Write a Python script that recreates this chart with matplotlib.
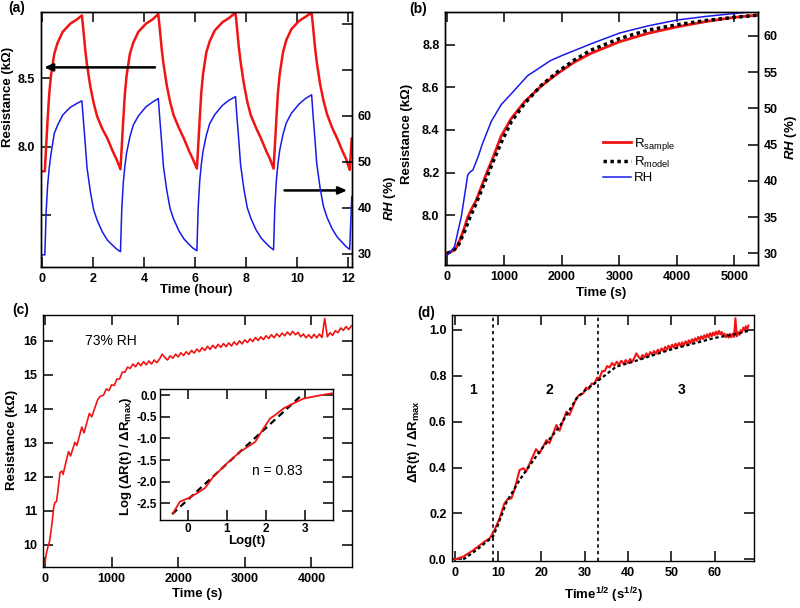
import numpy as np
import matplotlib.pyplot as plt

plt.rcParams['font.family'] = ['Liberation Sans', 'DejaVu Sans']
plt.rcParams['font.weight'] = 'bold'
plt.rcParams['axes.labelweight'] = 'bold'
plt.rcParams['axes.unicode_minus'] = False
plt.rcParams['mathtext.fontset'] = 'custom'
plt.rcParams['mathtext.rm'] = 'Liberation Sans'
plt.rcParams['mathtext.it'] = 'Liberation Sans:italic:bold'
plt.rcParams['mathtext.bf'] = 'Liberation Sans:bold'
plt.rcParams['mathtext.default'] = 'regular'
plt.rcParams['axes.linewidth'] = 1.0

RED = '#f01414'
BLUE = '#1a1ae6'

## (a) humidity cycling
a_time = [0.03, 0.12, 0.17, 0.23, 0.29, 0.36, 0.49, 0.62, 0.82, 1.12, 1.37, 1.57, 1.63, 1.70, 1.77, 1.90, 2.03, 2.17, 2.37, 2.57, 2.77, 2.92, 3.08,
          3.13, 3.19, 3.25, 3.32, 3.45, 3.58, 3.78, 4.08, 4.33, 4.56, 4.62, 4.69, 4.76, 4.89, 5.02, 5.16, 5.36, 5.56, 5.76, 5.91, 6.07,
          6.12, 6.18, 6.24, 6.31, 6.44, 6.57, 6.77, 7.07, 7.32, 7.58, 7.64, 7.71, 7.78, 7.91, 8.04, 8.18, 8.38, 8.58, 8.78, 8.93, 9.07,
          9.12, 9.18, 9.24, 9.31, 9.44, 9.57, 9.77, 10.07, 10.32, 10.56, 10.62, 10.69, 10.76, 10.89, 11.02, 11.16, 11.36, 11.56, 11.76, 11.91, 12.05, 12.13]
a_res = [7.82, 7.82, 8.0, 8.2, 8.38, 8.52, 8.68, 8.76, 8.84, 8.90, 8.93, 8.96, 8.85, 8.71, 8.60, 8.44, 8.32, 8.22, 8.13, 8.06, 7.97, 7.91, 7.835,
         8.0, 8.2, 8.38, 8.52, 8.68, 8.76, 8.84, 8.90, 8.93, 8.97, 8.86, 8.72, 8.61, 8.45, 8.33, 8.23, 8.14, 8.06, 7.97, 7.91, 7.84,
         8.0, 8.2, 8.39, 8.53, 8.69, 8.77, 8.85, 8.91, 8.94, 8.98, 8.87, 8.73, 8.62, 8.46, 8.33, 8.23, 8.14, 8.06, 7.97, 7.91, 7.84,
         8.0, 8.2, 8.39, 8.53, 8.69, 8.78, 8.86, 8.92, 8.95, 8.98, 8.87, 8.73, 8.62, 8.46, 8.34, 8.24, 8.14, 8.06, 7.97, 7.91, 7.83, 8.06]
a_rh = [29.8, 29.8, 39.0, 45.0, 48.6, 51.7, 56.2, 58.0, 60.2, 61.9, 62.7, 63.3, 59.0, 54.1, 48.8, 43.6, 39.6, 37.3, 34.8, 33.0, 31.9, 31.1, 30.5,
        39.6, 45.5, 49.0, 52.0, 55.5, 58.0, 60.0, 62.0, 63.0, 63.8, 59.3, 54.4, 49.1, 43.9, 39.9, 37.6, 35.1, 33.3, 32.1, 31.3, 30.7,
        39.9, 45.8, 49.3, 52.3, 55.8, 58.3, 60.3, 62.3, 63.4, 64.2, 59.6, 54.7, 49.4, 44.1, 40.1, 37.8, 35.3, 33.5, 32.3, 31.5, 30.9,
        40.1, 46.0, 49.5, 52.5, 56.0, 58.5, 60.6, 62.6, 63.8, 64.6, 59.9, 55.0, 49.7, 44.4, 40.4, 38.0, 35.5, 33.7, 32.5, 31.6, 31.0, 42.5]

## (b) single step, sample vs model vs RH
b_time = [0, 70, 150, 220, 290, 360, 430, 510, 650, 800, 940, 1120, 1350, 1640, 1930, 2220, 2500, 3000, 3500, 4000, 4500, 5000, 5400]
b_res = [7.82, 7.827, 7.84, 7.88, 7.93, 7.99, 8.03, 8.07, 8.17, 8.27, 8.37, 8.455, 8.533, 8.607, 8.667, 8.72, 8.76, 8.815, 8.855, 8.885, 8.91, 8.93, 8.94]
b_model_time = [0, 100, 200, 300, 400, 500, 650, 800, 950, 1120, 1350, 1640, 1930, 2220, 2500, 3000, 3500, 4000, 4500, 5000, 5400]
b_model = [7.82, 7.83, 7.86, 7.92, 7.99, 8.05, 8.15, 8.25, 8.345, 8.44, 8.525, 8.61, 8.675, 8.73, 8.775, 8.83, 8.87, 8.895, 8.915, 8.93, 8.94]
b_rh_time = [0, 40, 130, 250, 360, 400, 450, 540, 620, 770, 940, 1150, 1400, 1800, 2000, 2500, 3000, 3500, 4000, 4500, 5000, 5400]
b_rh = [29.8, 30.0, 30.9, 35.1, 40.8, 41.2, 41.5, 43.3, 45.2, 48.2, 50.5, 52.3, 54.5, 56.6, 57.3, 58.9, 60.4, 61.4, 62.2, 62.7, 63.1, 63.4]

## (c) 73% RH step
c_time_early = [0, 4, 18, 48, 66, 85, 108, 132, 151, 172, 190, 225, 253, 272, 313, 353, 384, 449, 480, 552, 586, 666, 702, 790, 829]
c_res_early = [9.45, 9.53, 9.72, 9.98, 10.08, 10.33, 10.68, 11.12, 11.25, 11.27, 11.52, 12.12, 12.17, 12.07, 12.42, 12.74, 12.61, 13.01, 12.92,
               13.46, 13.29, 13.86, 13.76, 14.26, 14.36]
# sampled every 40 s from 880 s to 4600 s
c_res_late = [14.40, 14.58, 14.53, 14.70, 14.68, 14.87, 14.87, 15.07, 15.07, 15.22,
              15.18, 15.31, 15.23, 15.35, 15.26, 15.38, 15.29, 15.40, 15.31, 15.43,
              15.35, 15.46, 15.60, 15.50, 15.43, 15.55, 15.48, 15.60, 15.52, 15.64,
              15.56, 15.67, 15.59, 15.71, 15.63, 15.75, 15.67, 15.79, 15.71, 15.83,
              15.74, 15.86, 15.77, 15.89, 15.80, 15.91, 15.82, 15.93, 15.84, 15.96,
              15.87, 15.99, 15.90, 16.02, 15.94, 16.05, 15.97, 16.09, 16.00, 16.11,
              16.03, 16.14, 16.06, 16.17, 16.08, 16.20, 16.11, 16.22, 16.14, 16.25,
              16.16, 16.27, 16.17, 16.24, 16.11, 16.19, 16.08, 16.17, 16.07, 16.18,
              16.08, 16.19, 16.09, 16.65, 16.11, 16.23, 16.15, 16.29, 16.23, 16.37,
              16.30, 16.41, 16.32, 16.43]
c_time = np.array(c_time_early + list(range(880, 4601, 40)), dtype=float)
c_res = np.array(c_res_early + c_res_late)

ins_logt = [-0.38, -0.2, 0.02, 0.23, 0.44, 0.66, 1.0, 1.34, 1.73, 1.94, 2.11, 2.24, 2.45, 2.71, 2.97, 3.31, 3.69]
ins_logr = [-2.73, -2.46, -2.38, -2.27, -2.15, -1.88, -1.58, -1.31, -1.08, -0.77, -0.54, -0.46, -0.31, -0.19, -0.08, -0.02, 0.04]
ins_fit_x = [-0.4, 2.92]
ins_fit_y = [-2.75, 0.0]

## (d) same step vs sqrt(t)
dR_max = 6.85
d_x = np.sqrt(c_time)
d_y = (c_res - c_res[0]) / dR_max
d_fit_x = [2, 5, 8.85, 10, 12, 15, 19.6, 24.2, 28.1, 30, 33.2, 37.3, 41, 45, 50, 55, 60, 65, 68]
d_fit_y = [0.0, 0.04, 0.099, 0.15, 0.25, 0.346, 0.47, 0.578, 0.70, 0.735, 0.78, 0.84, 0.86, 0.885, 0.915, 0.94, 0.965, 0.982, 0.997]
d_bounds = [8.85, 33.2]
d_regions = ['1', '2', '3']
d_region_x = [4.2, 21.9, 52.3]

W, H = 800, 608
fig = plt.figure(figsize=(W / 100, H / 100), dpi=100)


def box(l, t, r, b):
    return [l / W, 1 - b / H, (r - l) / W, (b - t) / H]


def ticks(ax, size=9, pad=4, **kw):
    ax.tick_params(direction='in', length=7, width=1.1, labelsize=size, pad=pad, **kw)


# ---------- (a)
axA = fig.add_axes(box(41, 12, 352, 267))
axA.plot(a_time, a_res, color=RED, lw=1.8)
axA.set_xlim(-0.03, 12.14)
axA.set_ylim(7.12, 8.985)
axA.set_xticks(range(0, 13, 2))
axA.set_yticks([7.5, 8.0, 8.5])
axA.set_yticklabels(['', '8.0', '8.5'])
ticks(axA, top=True, right=False)
axA.set_xlabel('Time (hour)', fontsize=9.5)
axA.xaxis.set_label_coords(0.5, -0.068)
axA.set_ylabel('Resistance (k\u03a9)', fontsize=9.5)
axA.yaxis.set_label_coords(-0.087, 0.667)
axA.annotate('', xy=(0.09, 8.58), xytext=(4.43, 8.58),
             arrowprops=dict(arrowstyle='-|>,head_length=0.5,head_width=0.22', color='black', lw=1.8, shrinkA=0, shrinkB=0))
axA.annotate('', xy=(11.95, 7.68), xytext=(9.5, 7.68),
             arrowprops=dict(arrowstyle='-|>,head_length=0.5,head_width=0.22', color='black', lw=1.8, shrinkA=0, shrinkB=0))
axAr = axA.twinx()
axAr.plot(a_time, a_rh, color=BLUE, lw=1.1)
axAr.set_ylim(27.17, 82.6)
axAr.set_yticks([30, 40, 50, 60, 70, 80])
axAr.set_yticklabels(['30', '40', '50', '60', '', ''])
ticks(axAr, left=False, top=False, bottom=False)
axAr.set_ylabel('$\\mathit{RH}$ (%)', fontsize=9.5)
axAr.yaxis.set_label_coords(1.095, 0.27)

# ---------- (b)
axB = fig.add_axes(box(445, 12, 758, 265))
l1, = axB.plot(b_time, b_res, color=RED, lw=2.0, label='R$_{sample}$')
l2, = axB.plot(b_model_time, b_model, color='black', lw=2.5, ls=(0, (1, 1)), label='R$_{model}$')
axB.set_xlim(-35, 5410)
axB.set_ylim(7.765, 8.955)
axB.set_xticks(range(0, 5001, 1000))
axB.set_yticks([8.0, 8.2, 8.4, 8.6, 8.8])
ticks(axB, top=True, right=False)
axB.set_xlabel('Time (s)', fontsize=9.5)
axB.xaxis.set_label_coords(0.5, -0.087)
axB.set_ylabel('Resistance (k\u03a9)', fontsize=9.5)
axB.yaxis.set_label_coords(-0.101, 0.52)
axBr = axB.twinx()
l3, = axBr.plot(b_rh_time, b_rh, color=BLUE, lw=1.1, label='RH')
axBr.set_ylim(28.38, 63.31)
axBr.set_yticks(range(30, 61, 5))
ticks(axBr, left=False, top=False, bottom=False)
axBr.set_ylabel('$\\mathit{RH}$ (%)', fontsize=9.5)
axBr.yaxis.set_label_coords(1.08, 0.502)
axBr.legend(handles=[l1, l2, l3], loc='upper left', bbox_to_anchor=(0.505, 0.51), frameon=False,
            prop={'weight': 'normal', 'size': 9.5}, handlelength=2.1, handletextpad=0.25,
            labelspacing=0.15, borderpad=0, borderaxespad=0)

# ---------- (c)
axC = fig.add_axes(box(43, 315, 352, 567))
axC.plot(c_time, c_res, color=RED, lw=1.2)
axC.set_xlim(-30, 4610)
axC.set_ylim(9.35, 16.75)
axC.set_xticks(range(0, 4001, 1000))
axC.set_yticks(range(10, 17))
ticks(axC, top=True, right=True)
axC.set_xlabel('Time (s)', fontsize=9.5)
axC.xaxis.set_label_coords(0.5, -0.083)
axC.set_ylabel('Resistance (k\u03a9)', fontsize=9.5)
axC.yaxis.set_label_coords(-0.081, 0.504)
axC.text(600, 16.0, '73% RH', fontsize=10, fontweight='normal', va='center')

axI = fig.add_axes(box(160, 389, 333, 520))
axI.plot(ins_fit_x, ins_fit_y, color='black', lw=1.6, ls=(0, (3, 2)))
axI.plot(ins_logt, ins_logr, color=RED, lw=1.3)
axI.set_xlim(-0.71, 3.72)
axI.set_ylim(-2.885, 0.14)
axI.set_xticks([0, 1, 2, 3])
axI.set_yticks([-2.5, -2.0, -1.5, -1.0, -0.5, 0.0])
ticks(axI, size=8.5, pad=2, top=True, right=True)
axI.set_xlabel('Log(t)', fontsize=9.5)
axI.xaxis.set_label_coords(0.5, -0.115)
axI.set_ylabel('Log (\u0394R(t) / \u0394R$_{max}$)', fontsize=9.5)
axI.yaxis.set_label_coords(-0.15, 0.49)
axI.text(1.64, -1.75, 'n = 0.83', fontsize=10, fontweight='normal', va='center')

# ---------- (d)
axD = fig.add_axes(box(452, 315, 754, 561))
for xb in d_bounds:
    axD.axvline(xb, color='black', lw=1.2, ls=(0, (2, 2)))
axD.plot(d_x, d_y, color=RED, lw=1.5)
axD.plot(d_fit_x, d_fit_y, color='black', lw=1.6, ls=(0, (1.5, 1.2)))
for lab, xr in zip(d_regions, d_region_x):
    axD.text(xr, 0.738, lab, fontsize=10, ha='center', va='center')
axD.set_xlim(-0.6, 69.1)
axD.set_ylim(-0.007, 1.065)
axD.set_xticks(range(0, 61, 10))
axD.set_yticks([0.0, 0.2, 0.4, 0.6, 0.8, 1.0])
ticks(axD, top=True, right=True)
axD.set_xlabel('Time$^{1/2}$ (s$^{1/2}$)', fontsize=9.5)
axD.xaxis.set_label_coords(0.5, -0.098)
axD.set_ylabel('\u0394R(t) / \u0394R$_{max}$', fontsize=9.5)
axD.yaxis.set_label_coords(-0.099, 0.486)

for lab, (px, py) in zip(['(a)', '(b)', '(c)', '(d)'], [(17, 8), (418, 9), (21, 310), (426, 313)]):
    fig.text(px / W, 1 - py / H, lab, fontsize=10, ha='center', va='center')

fig.savefig('out.png', dpi=100)
